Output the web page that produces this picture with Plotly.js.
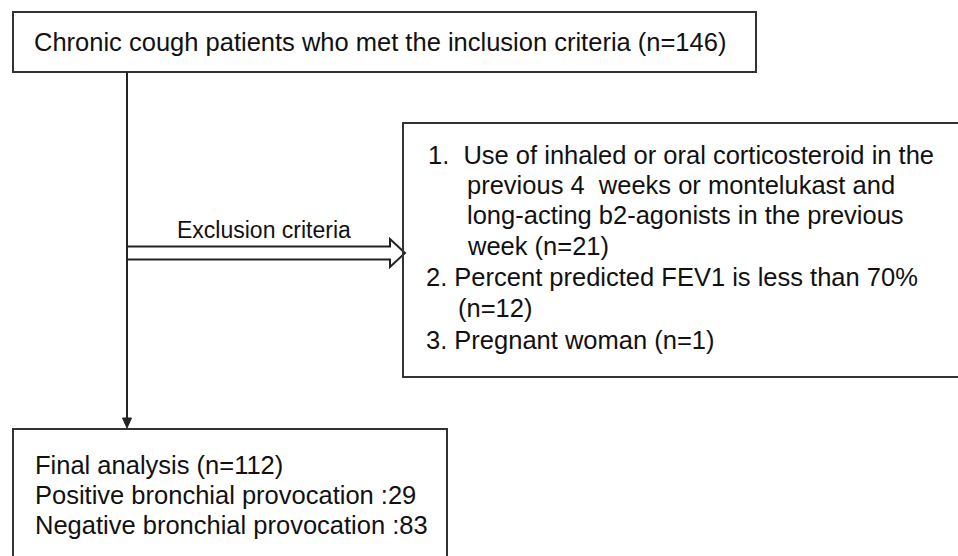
<!DOCTYPE html>
<html>
<head>
<meta charset="utf-8">
<script src="https://cdn.plot.ly/plotly-3.0.1.min.js"></script>
<style>html,body{margin:0;padding:0;background:#fff;}#chart{width:958px;height:556px;}</style>
</head>
<body>
<div id="chart"></div>
<script>
// Flowchart content
const topBoxText = ["Chronic cough patients who met the inclusion criteria (n=146)"];
const exclusionLabel = ["Exclusion criteria"];
const exclusionLines = [
  "1.  Use of inhaled or oral corticosteroid in the",
  "previous 4  weeks or montelukast and",
  "long-acting b2-agonists in the previous",
  "week (n=21)",
  "2. Percent predicted FEV1 is less than 70%",
  "(n=12)",
  "3. Pregnant woman (n=1)"
];
const finalLines = [
  "Final analysis (n=112)",
  "Positive bronchial provocation :29",
  "Negative bronchial provocation :83"
];
const counts = {included: 146, excluded: [21, 12, 1], final: 112, positive: 29, negative: 83};

const FONT = {family: "Liberation Sans, Arial, sans-serif", size: 25.5, color: "#111"};
const LINE = {color: "#333", width: 2};

const shapes = [
  // top box
  {type: "rect", x0: 13, x1: 756, y0: 12, y1: 72, line: LINE, fillcolor: "rgba(0,0,0,0)"},
  // vertical line
  {type: "line", x0: 127, x1: 127, y0: 72, y1: 420, line: {color: "#222", width: 2}},
  // arrowhead down
  {type: "path", path: "M122.5,418 L131.5,418 L127,428 Z", fillcolor: "#222", line: {color: "#222", width: 1}},
  // double-line arrow
  {type: "path", path: "M127,246.5 L390,246.5 L390,239 L405,253 L390,267 L390,259.5 L127,259.5",
   fillcolor: "rgba(0,0,0,0)", line: {color: "#222", width: 2}},
  // right box
  {type: "rect", x0: 403, x1: 975, y0: 123, y1: 377, line: LINE, fillcolor: "rgba(0,0,0,0)"},
  // bottom box
  {type: "rect", x0: 13, x1: 447, y0: 429, y1: 575, line: LINE, fillcolor: "rgba(0,0,0,0)"}
];

const annotations = [];
annotations.push({x: 32, y: 42, text: topBoxText[0], xanchor: "left", yanchor: "middle", showarrow: false, font: FONT});
annotations.push({x: 264, y: 230, text: exclusionLabel[0], xanchor: "center", yanchor: "middle", showarrow: false, font: Object.assign({}, FONT, {size: 23})});
const exY = [155, 185, 215, 246, 277, 308, 340];
const exX = [426, 465, 465, 465, 424, 456, 424];
exclusionLines.forEach((t, i) => annotations.push({x: exX[i], y: exY[i], text: t.replace(/  /g, "&nbsp; "), xanchor: "left", yanchor: "middle", showarrow: false, font: FONT}));
const fY = [465, 495, 525];
finalLines.forEach((t, i) => annotations.push({x: 33, y: fY[i], text: t, xanchor: "left", yanchor: "middle", showarrow: false, font: FONT}));

const layout = {
  width: 958, height: 556,
  margin: {l: 0, r: 0, t: 0, b: 0},
  paper_bgcolor: "#fff", plot_bgcolor: "#fff",
  xaxis: {range: [0, 958], visible: false, fixedrange: true},
  yaxis: {range: [556, 0], visible: false, fixedrange: true},
  shapes: shapes,
  annotations: annotations,
  showlegend: false
};
Plotly.newPlot("chart", [{x: [], y: [], type: "scatter"}], layout, {displayModeBar: false, staticPlot: true});
</script>
</body>
</html>
